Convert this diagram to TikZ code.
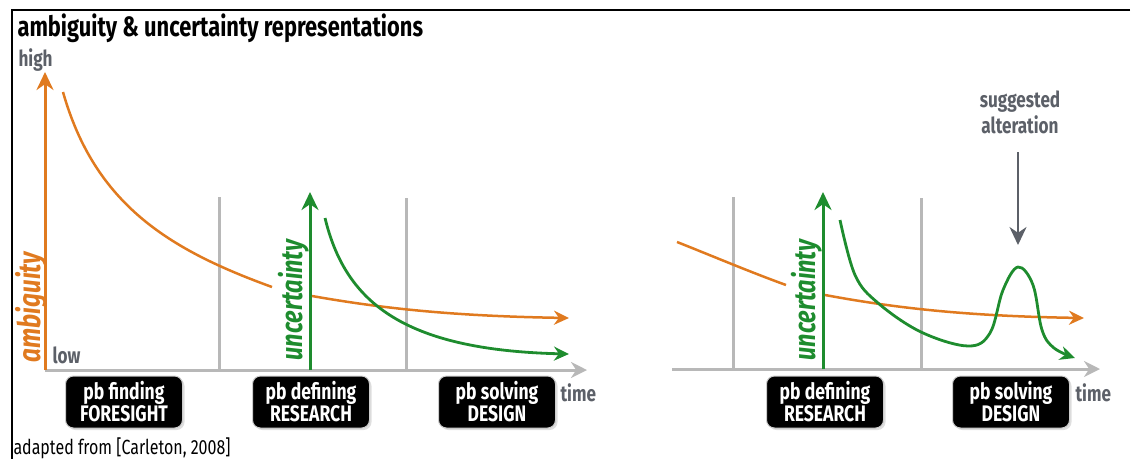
\documentclass[tikz,border=0pt]{standalone}
\usepackage{fontspec}
\setmainfont{Fira Sans}[FakeStretch=0.78]
\usetikzlibrary{arrows.meta,positioning,shadows}
\usepackage{xcolor}
\definecolor{ambig}{HTML}{E07A1F}
\definecolor{uncert}{HTML}{1E8C2E}
\definecolor{axisgray}{HTML}{B8B8B8}
\definecolor{labelgray}{HTML}{5C6068}

\tikzset{
  phasebox/.style={fill=black, draw=gray!40, line width=1pt, text=white, rounded corners=8pt,
    minimum width=117pt, minimum height=52pt, align=center, inner sep=2pt,
    font=\fontsize{22.5}{22}\selectfont\bfseries,
    drop shadow={shadow xshift=2pt, shadow yshift=-2pt, fill=gray!50}},
  timeaxis/.style={axisgray, line width=3pt, -{Stealth[length=16pt, width=16pt]}},
  phaseline/.style={axisgray, line width=3pt},
  ambline/.style={ambig, line width=2.5pt},
  uncline/.style={uncert, line width=2.8pt},
  graylabel/.style={labelgray, font=\fontsize{22}{26}\selectfont\bfseries},
  axislabel/.style={rotate=90, font=\fontsize{30}{30}\selectfont\bfseries\itshape},
}

\begin{document}
\begin{tikzpicture}[x=1pt, y=-1pt, >=Stealth]
    \useasboundingbox (0,0) rectangle (1131,459);
    \draw[line width=1.5pt] (1130,10) -- (12,10) -- (12,459);

    % title and note
    \node[anchor=west, font=\fontsize{28}{28}\selectfont\bfseries] (title) at (14,28) {ambiguity \& uncertainty representations};
    \node[anchor=west, font=\fontsize{20.5}{20}\selectfont] (note) at (10,448) {adapted from [Carleton, 2008]};

    % ---- left panel ----
    \coordinate (o) at (45,370);
    \coordinate (t) at (587,370);
    \coordinate (amb top) at (45,72);
    \coordinate (unc) at (310,370);
    \coordinate (unc top) at (310,192);

    \draw[phaseline] (219,197) -- (219,370);
    \draw[phaseline] (406,198) -- (406,370);
    \draw[timeaxis] (o) -- (t);
    \draw[ambline, line width=3pt, -{Stealth[length=18pt, width=17pt]}] (o) -- (amb top);
    \draw[uncline, line width=3pt, -{Stealth[length=18pt, width=17pt]}] (unc) -- (unc top);

    \draw[ambline] (63,92) .. controls (95,205) and (170,250) .. (272,287);
    \draw[ambline, -{Stealth[length=15pt, width=14pt]}] (312,296) .. controls (380,308) and (450,316) .. (569,318);
    \draw[uncline, -{Stealth[length=15pt, width=14pt]}] (325,218) .. controls (345,300) and (400,350) .. (569,354);

    \node[graylabel, anchor=west] (high) at (15,60) {high};
    \node[graylabel, anchor=west] (low) at (49,355) {low};
    \node[graylabel, anchor=west] (time) at (557,393) {time};
    \node[ambig, axislabel, font=\fontsize{31}{31}\selectfont\bfseries\itshape] (amb lbl) at (31,307) {ambiguity};
    \node[uncert, axislabel] (unc lbl) at (294,300) {uncertainty};

    \node[phasebox] (foresight) at (124,402) {pb finding\\FORESIGHT};
    \node[phasebox] (research) at (311,402) {pb defining\\RESEARCH};
    \node[phasebox] (design) at (497,402) {pb solving\\DESIGN};

    % ---- right panel ----
    \coordinate (o2) at (672,369);
    \coordinate (t2) at (1100,369);
    \coordinate (unc2) at (823,369);
    \coordinate (unc2 top) at (823,192);

    \draw[phaseline] (733,197) -- (733,369);
    \draw[phaseline] (921,198) -- (921,369);
    \draw[timeaxis] (o2) -- (t2);
    \draw[uncline, line width=3pt, -{Stealth[length=18pt, width=17pt]}] (unc2) -- (unc2 top);

    \draw[ambline] (677,242) .. controls (710,255) and (750,272) .. (786,285);
    \draw[ambline, -{Stealth[length=15pt, width=14pt]}] (825,295) .. controls (890,307) and (960,316) .. (1084,318);
    \draw[uncline, -{Stealth[length=15pt, width=14pt]}] plot[smooth, tension=0.6] coordinates
      {(840,220) (855,275) (878,303) (921,332) (968,346) (990,333) (1003,290) (1018,267) (1033,285) (1042,330) (1054,348) (1075,358)};

    \node[graylabel, align=center] (alter) at (1020,112) {suggested\\alteration};
    \coordinate (alter tip) at (1018,245);
    \draw[labelgray, line width=2.5pt, -{Stealth[length=18pt, width=17pt]}] (1018,152) -- (alter tip);

    \node[graylabel, anchor=west] (time2) at (1072,393) {time};
    \node[uncert, axislabel] (unc2 lbl) at (807,300) {uncertainty};

    \node[phasebox] (research2) at (825,402) {pb defining\\RESEARCH};
    \node[phasebox] (design2) at (1011,402) {pb solving\\DESIGN};
\end{tikzpicture}
\end{document}
